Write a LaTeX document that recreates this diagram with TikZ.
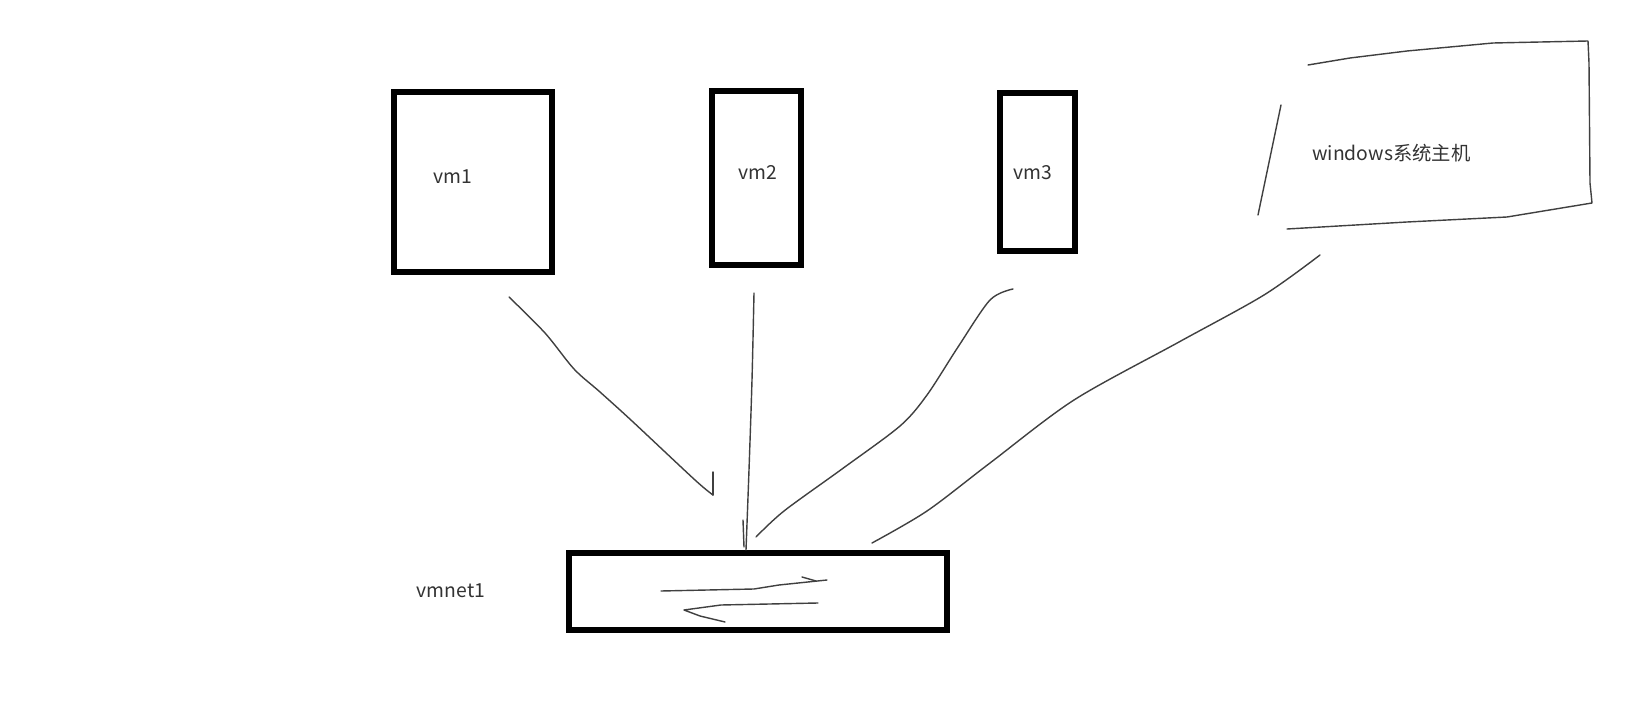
\documentclass[tikz,border=0pt]{standalone}
\usepackage{fontspec}
\newfontfamily\cjk{Noto Sans CJK SC}
\usetikzlibrary{arrows.meta,positioning}

\begin{document}
\begin{tikzpicture}[
    x=0.02cm, y=-0.02cm,
    box/.style={draw, line width=3.6pt, inner sep=0pt},
    lbl/.style={font=\cjk\fontsize{11pt}{13pt}\selectfont, text=black!80, inner sep=0pt},
    wire/.style={draw=black!75, line width=0.8pt, line cap=round, line join=round}
]
\useasboundingbox (0,0) rectangle (1651,726);

% virtual machines
\node[box, minimum width=3.16cm, minimum height=3.60cm] (vm1) at (473,182) {};
\node[box, minimum width=1.78cm, minimum height=3.48cm] (vm2) at (756.5,178) {};
\node[box, minimum width=1.50cm, minimum height=3.16cm] (vm3) at (1037.5,172) {};

\node[lbl] (vm1txt) at (453,177) {vm1};
\node[lbl] (vm2txt) at (758,172) {vm2};
\node[lbl] (vm3txt) at (1033,173) {vm3};

% switch
\node[box, line width=3pt, minimum width=7.56cm, minimum height=1.54cm] (vmnet) at (758,591.5) {};
\node[lbl] (vmnettxt) at (451,591) {vmnet1};

% host (hand drawn outline)
\node[lbl, anchor=west] (hosttxt) at (1312,153) {windows系统主机};
\draw[wire] (1308,65) -- (1350,58) -- (1407,51) -- (1493,43) -- (1588,41)
    -- (1589,63) -- (1590,183) -- (1592,203)
    -- (1507,217) -- (1407,222) -- (1287,229);
\draw[wire] (1281,105) -- (1258,215);

% arrows inside the switch
\draw[wire] (661,591) -- (754,589) -- (779,585) -- (827,580);
\draw[wire] (802,577) -- (816,581);
\draw[wire] (818,603) -- (721,605) -- (684,610) -- (700,616) -- (725,622);

% links
\coordinate (l1a) at (509,297);
\coordinate (l1b) at (713,495);
\coordinate (l2a) at (754,293);
\coordinate (l2b) at (746,550);
\coordinate (l3a) at (1013,289);
\coordinate (l3b) at (756,537);
\coordinate (l4a) at (1320,255);
\coordinate (l4b) at (872,543);

\draw[wire] plot[smooth, tension=0.5] coordinates {(l1a) (545,333) (574,369) (600,392) (632,421) (695,480) (l1b)};
\draw[wire] (l1b) -- (713,472);
\draw[wire] plot[smooth, tension=0.5] coordinates {(l2a) (752,380) (749,470) (l2b)};
\draw[wire] (743,520) -- (744,547);
\draw[wire] plot[smooth, tension=0.5] coordinates {(l3a) (990,300) (958,347) (927,395) (900,426) (842,469) (784,511) (l3b)};
\draw[wire] plot[smooth, tension=0.5] coordinates {(l4a) (1264,295) (1179,342) (1074,400) (990,463) (927,511) (l4b)};

\end{tikzpicture}
\end{document}
